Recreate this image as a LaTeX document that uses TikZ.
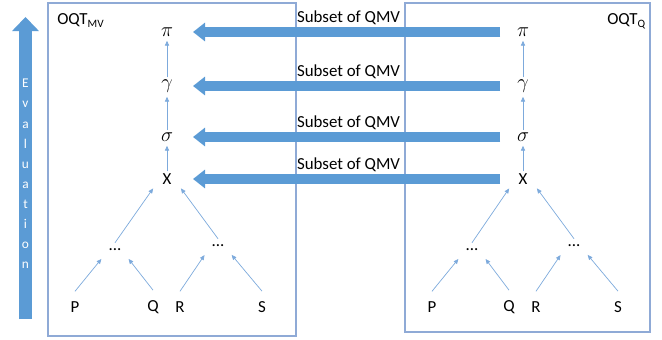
\documentclass[tikz,border=0pt]{standalone}
\usepackage{fontspec}
\setmainfont{Carlito}
\usetikzlibrary{arrows.meta,positioning}

\definecolor{arrowblue}{RGB}{91,155,213}
\definecolor{panelblue}{RGB}{143,170,214}
\definecolor{edgeblue}{RGB}{125,170,220}

\tikzset{
    panel/.style = {
        draw=panelblue,
        line width=0.8pt
    },
    treenode/.style = {
        font=\fontsize{12}{14}\selectfont,
        inner xsep=0.2cm,
        inner ysep=0.05cm
    },
    opnode/.style = {
        treenode,
        font=\fontsize{13.5}{16}\selectfont
    },
    leaf/.style = {
        treenode,
        inner ysep=0.25cm
    },
    dotsnode/.style = {
        font=\fontsize{12}{14}\selectfont,
        minimum width=0.6cm,
        minimum height=0.35cm,
        inner sep=0pt
    },
    edge/.style = {
        draw=edgeblue,
        line width=0.5pt,
        shorten >=1.5pt,
        -{Triangle[length=3.5pt,width=3pt]}
    },
    bigarrow/.style = {
        draw=arrowblue,
        line width=0.25cm,
        shorten <=0.575cm,
        shorten >=0.65cm,
        -{Triangle[length=0.3cm,width=0.45cm]}
    },
    evalarrow/.style = {
        draw=arrowblue,
        line width=0.325cm,
        -{Triangle[length=0.35cm,width=0.65cm]}
    },
    subsettext/.style = {
        font=\fontsize{12}{14}\selectfont,
        inner sep=0pt
    },
    treetag/.style = {
        font=\fontsize{12}{14}\selectfont,
        anchor=base west,
        inner sep=0pt
    }
}

\begin{document}
\begin{tikzpicture}[x=0.025cm, y=-0.025cm] % one unit = one pixel of the sketch

\useasboundingbox (0,0) rectangle (662,340);

% Panels
\draw [panel] (48,3) rectangle (296,336);
\draw [panel] (405,3) rectangle (650,332);
\node (mvtag) [treetag] at (57,25) {OQT\textsubscript{MV}};
\node (qtag) [treetag] at (607,25) {OQT\textsubscript{Q}};

% Evaluation arrow
\coordinate (evbot) at (25.5,319);
\coordinate (evtop) at (25.5,17);
\draw [evalarrow] (evbot) -- (evtop);
\node (evaltext) [white, align=center, inner sep=0pt, font=\fontsize{9.5}{14.3}\selectfont] at (25.5,174) {E\\v\\a\\l\\u\\a\\t\\i\\o\\n};

% Left tree
\node (lpi) [opnode] at (167,32) {$\pi$};
\node (lgam) [opnode] at (167,86) {$\gamma$};
\node (lsig) [opnode] at (167,137) {$\sigma$};
\node (lx) [treenode] at (167,179) {X};
\node (ld1) [dotsnode] at (115,250) {...};
\node (ld2) [dotsnode] at (218,246) {...};
\node (lp) [leaf] at (75,307) {P};
\node (lq) [leaf] at (153,307) {Q};
\node (lr) [leaf] at (180,307) {R};
\node (ls) [leaf] at (262,307) {S};

% Right tree
\node (rpi) [opnode] at (523,32) {$\pi$};
\node (rgam) [opnode] at (523,86) {$\gamma$};
\node (rsig) [opnode] at (523,137) {$\sigma$};
\node (rx) [treenode] at (523,179) {X};
\node (rd1) [dotsnode] at (472,250) {...};
\node (rd2) [dotsnode] at (574,246) {...};
\node (rp) [leaf] at (432,307) {P};
\node (rq) [leaf] at (509,307) {Q};
\node (rr) [leaf] at (536,307) {R};
\node (rs) [leaf] at (618,307) {S};

% Tree edges
\draw [edge] (lgam) -- (lpi);
\draw [edge] (lsig) -- (lgam);
\draw [edge] (lx) -- (lsig);
\draw [edge] (ld1.north) -- (lx.south west);
\draw [edge] (ld2.north) -- (lx.south east);
\draw [edge] (lp.north) -- (ld1.south west);
\draw [edge] (lq.north) -- (ld1.south east);
\draw [edge] (lr.north) -- (ld2.south west);
\draw [edge] (ls.north) -- (ld2.south east);

\draw [edge] (rgam) -- (rpi);
\draw [edge] (rsig) -- (rgam);
\draw [edge] (rx) -- (rsig);
\draw [edge] (rd1.north) -- (rx.south west);
\draw [edge] (rd2.north) -- (rx.south east);
\draw [edge] (rp.north) -- (rd1.south west);
\draw [edge] (rq.north) -- (rd1.south east);
\draw [edge] (rr.north) -- (rd2.south west);
\draw [edge] (rs.north) -- (rd2.south east);

% Subset arrows
\draw [bigarrow] (rpi.center) -- node [subsettext, pos=0.49, above=0.05cm] {Subset of QMV} (lpi.center);
\draw [bigarrow] (rgam.center) -- node [subsettext, pos=0.49, above=0.05cm] {Subset of QMV} (lgam.center);
\draw [bigarrow] (rsig.center) -- node [subsettext, pos=0.49, above=0.05cm] {Subset of QMV} (lsig.center);
\draw [bigarrow] (rx.center) -- node [subsettext, pos=0.49, above=0.05cm] {Subset of QMV} (lx.center);

\end{tikzpicture}
\end{document}
